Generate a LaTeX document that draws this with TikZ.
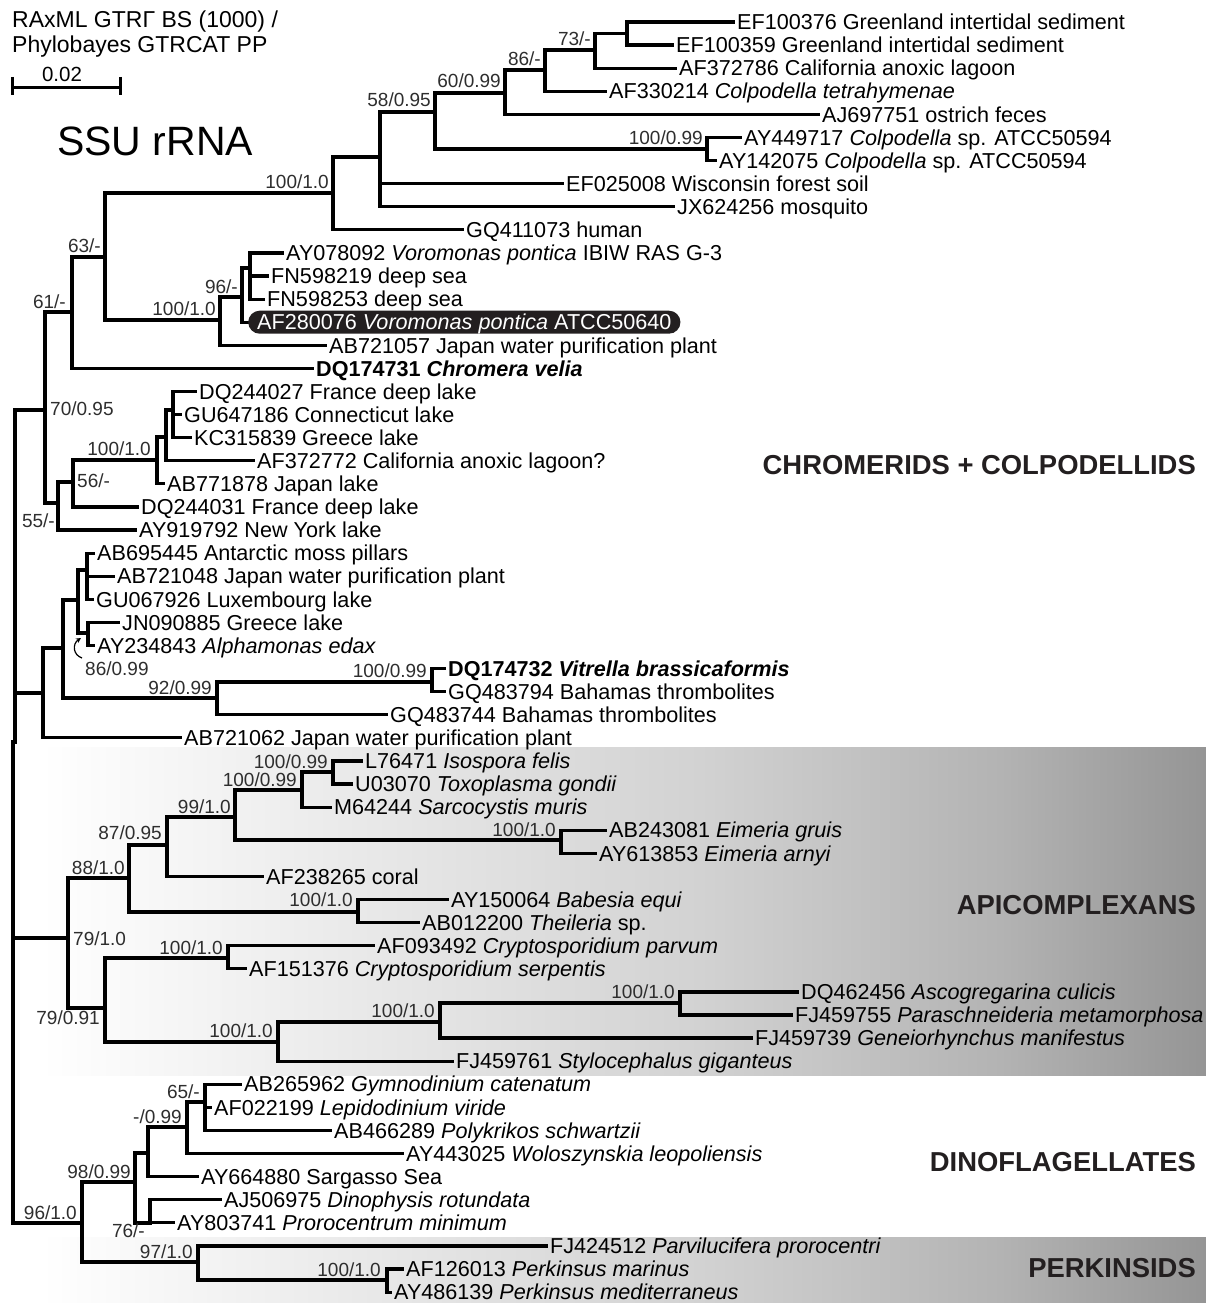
\documentclass[tikz,border=0pt]{standalone}
\usepackage{fontspec}
\setmainfont{Liberation Sans}
\usetikzlibrary{arrows.meta}
\definecolor{boxblack}{HTML}{231F20}
\definecolor{gA}{HTML}{EDEDED}
\definecolor{gB}{HTML}{D2D2D2}
\definecolor{gC}{HTML}{B3B3B3}
\definecolor{gD}{HTML}{959595}
\definecolor{supc}{HTML}{2E2E2E}
\newcommand{\leaffnt}{\fontsize{21.6}{24}\selectfont}
\newcommand{\supfnt}{\fontsize{19}{21}\selectfont}
\begin{document}
\begin{tikzpicture}[x=1pt,y=-1pt,
  br/.style={line width=3.2pt, line cap=rect, line join=miter},
  rootbr/.style={line width=4.2pt, line cap=rect},
  leaf/.style={anchor=base west, inner sep=0pt, xshift=4pt, yshift=-7.7pt, font=\leaffnt},
  hl/.style={anchor=west, inner sep=0pt, inner xsep=9pt, fill=boxblack, text=white, rounded corners=11.5pt, minimum height=23pt, text height=15.5pt, text depth=0pt, font=\leaffnt},
  sup/.style={anchor=base east, inner sep=0pt, font=\supfnt, text=supc},
  supw/.style={anchor=base west, inner sep=0pt, font=\supfnt, text=supc},
  clade/.style={anchor=base east, inner sep=0pt, font=\fontsize{27.4}{29}\selectfont\bfseries, text=boxblack},
  band/.style={draw=none}
]
\useasboundingbox (0,0) rectangle (1206,1303);

% ---------- background bands ----------
\fill[band, left color=white, right color=gA] (40,747) rectangle (301,1075);
\fill[band, left color=gA, right color=gB] (300,747) rectangle (701,1075);
\fill[band, left color=gB, right color=gC] (700,747) rectangle (1001,1075);
\fill[band, left color=gC, right color=gD] (1000,747) rectangle (1206,1075);
\fill[band, left color=white, right color=gA] (40,1237) rectangle (301,1303);
\fill[band, left color=gA, right color=gB] (300,1237) rectangle (701,1303);
\fill[band, left color=gB, right color=gC] (700,1237) rectangle (1001,1303);
\fill[band, left color=gC, right color=gD] (1000,1237) rectangle (1206,1303);

% ---------- header ----------
\node[anchor=base west, inner sep=0pt, font=\fontsize{23}{25}\selectfont] (hdr1) at (12,28) {RAxML GTRΓ BS (1000) /};
\node[anchor=base west, inner sep=0pt, font=\fontsize{23}{25}\selectfont] (hdr2) at (12,53) {Phylobayes GTRCAT PP};
\coordinate (sbL) at (12,88); \coordinate (sbR) at (120,88);
\coordinate (sbLt) at (12,77); \coordinate (sbLb) at (12,95);
\coordinate (sbRt) at (120,77); \coordinate (sbRb) at (120,95);
\draw[line width=3pt] (sbL) -- (sbR);
\draw[line width=3pt] (sbLt) -- (sbLb);
\draw[line width=3pt] (sbRt) -- (sbRb);
\node[anchor=base, inner sep=0pt, font=\fontsize{20.5}{22}\selectfont] (sblab) at (62,82) {0.02};
\node[anchor=base west, inner sep=0pt, font=\fontsize{41}{44}\selectfont] (title) at (57,155) {SSU rRNA};

% ---------- leaf tips ----------
\coordinate (t1) at (733,22.0);
\coordinate (t2) at (672,45.1);
\coordinate (t3) at (675,68.2);
\coordinate (t4) at (605,91.3);
\coordinate (t5) at (818,114.4);
\coordinate (t6) at (740,137.5);
\coordinate (t7) at (715,160.5);
\coordinate (t8) at (562,183.6);
\coordinate (t9) at (673,206.7);
\coordinate (t10) at (462,229.8);
\coordinate (t11) at (282,252.9);
\coordinate (t12) at (267,276.0);
\coordinate (t13) at (263,299.1);
\coordinate (t14) at (248,322.2);
\coordinate (t15) at (325,345.3);
\coordinate (t16) at (312,368.4);
\coordinate (t17) at (195,391.4);
\coordinate (t18) at (180,414.5);
\coordinate (t19) at (190,437.6);
\coordinate (t20) at (253,460.7);
\coordinate (t21) at (163,483.8);
\coordinate (t22) at (137,506.9);
\coordinate (t23) at (135,530.0);
\coordinate (t24) at (93,553.1);
\coordinate (t25) at (113,576.2);
\coordinate (t26) at (92,599.3);
\coordinate (t27) at (118,622.4);
\coordinate (t28) at (93,645.5);
\coordinate (t29) at (444,668.6);
\coordinate (t30) at (444,691.6);
\coordinate (t31) at (386,714.7);
\coordinate (t32) at (180,737.8);
\coordinate (t33) at (361,760.9);
\coordinate (t34) at (351,784.0);
\coordinate (t35) at (330,807.1);
\coordinate (t36) at (605,830.2);
\coordinate (t37) at (595,853.3);
\coordinate (t38) at (262,876.4);
\coordinate (t39) at (447,899.5);
\coordinate (t40) at (418,922.6);
\coordinate (t41) at (373,945.7);
\coordinate (t42) at (245,968.8);
\coordinate (t43) at (797,991.9);
\coordinate (t44) at (791,1015.0);
\coordinate (t45) at (751,1038.0);
\coordinate (t46) at (452,1061.1);
\coordinate (t47) at (240,1084.2);
\coordinate (t48) at (210,1107.3);
\coordinate (t49) at (330,1130.4);
\coordinate (t50) at (402,1153.5);
\coordinate (t51) at (197,1176.6);
\coordinate (t52) at (220,1199.7);
\coordinate (t53) at (173,1222.8);
\coordinate (t54) at (546,1245.9);
\coordinate (t55) at (402,1269.0);
\coordinate (t56) at (390,1292.1);

% ---------- internal nodes ----------
\coordinate (Nx) at (627,33.5);
\coordinate (N73) at (595,50);
\coordinate (N86) at (545,70);
\coordinate (N60) at (505,93);
\coordinate (Nb) at (707,149);
\coordinate (N58) at (435,112);
\coordinate (Na) at (380,157);
\coordinate (N100) at (333,193);
\coordinate (Nv2) at (250,268);
\coordinate (N96) at (242,297);
\coordinate (Nvoro) at (220,320);
\coordinate (N63) at (105,257);
\coordinate (N61) at (72,312);
\coordinate (Nz) at (173,410);
\coordinate (Ny) at (166,437);
\coordinate (N100c) at (157,460);
\coordinate (N56) at (73,482);
\coordinate (N55) at (58,503);
\coordinate (N70) at (45,410);
\coordinate (Np) at (87,570);
\coordinate (Nq) at (88,633);
\coordinate (N86b) at (78,600);
\coordinate (Nvit) at (432,682);
\coordinate (N92) at (217,698);
\coordinate (Nb2) at (63,648);
\coordinate (Na2) at (43,693);
\coordinate (C) at (15,742);
\coordinate (Nisos) at (333,772);
\coordinate (Ntox) at (302,790);
\coordinate (Neim) at (561,840);
\coordinate (N99) at (235,817);
\coordinate (N87) at (167,845);
\coordinate (Nbab) at (358,912);
\coordinate (N88) at (129,878);
\coordinate (Ncry) at (228,958);
\coordinate (Nasco) at (680,1003);
\coordinate (Ng2) at (440,1022);
\coordinate (Ng) at (278,1042);
\coordinate (N79b) at (105,1008);
\coordinate (Nap) at (68,938);
\coordinate (N65) at (205,1102);
\coordinate (N099) at (187,1127);
\coordinate (Nm) at (148,1153);
\coordinate (N76) at (150,1223);
\coordinate (N98) at (135,1182);
\coordinate (Nper) at (387,1280);
\coordinate (N97) at (198,1262);
\coordinate (N96r) at (82,1223);
\coordinate (R) at (13,938);
\coordinate (Rtop) at (13,742);
\coordinate (Rbot) at (13,1223);

% ---------- branches ----------
\foreach \p/\c in {Nx/t1, Nx/t2, N73/Nx, N73/t3, N86/N73, N86/t4, N60/N86, N60/t5,
  Nb/t6, Nb/t7, N58/N60, N58/Nb, Na/N58, Na/t8, Na/t9, N100/Na, N100/t10,
  Nv2/t11, Nv2/t12, Nv2/t13, N96/Nv2, N96/t14, Nvoro/N96, Nvoro/t15,
  N63/N100, N63/Nvoro, N61/N63, N61/t16, Nz/t17, Nz/t18, Nz/t19, Ny/Nz, Ny/t20,
  N100c/Ny, N100c/t21, N56/N100c, N56/t22, N55/N56, N55/t23, N70/N61, N70/N55,
  Np/t24, Np/t25, Np/t26, Nq/t27, Nq/t28, N86b/Np, N86b/Nq, Nvit/t29, Nvit/t30,
  N92/Nvit, N92/t31, Nb2/N86b, Nb2/N92, Na2/Nb2, Na2/t32, C/N70, C/Na2,
  Nisos/t33, Nisos/t34, Ntox/Nisos, Ntox/t35, Neim/t36, Neim/t37, N99/Ntox, N99/Neim,
  N87/N99, N87/t38, Nbab/t39, Nbab/t40, N88/N87, N88/Nbab, Ncry/t41, Ncry/t42,
  Nasco/t43, Nasco/t44, Ng2/Nasco, Ng2/t45, Ng/Ng2, Ng/t46, N79b/Ncry, N79b/Ng,
  Nap/N88, Nap/N79b,
  N65/t47, N65/t48, N65/t49, N099/N65, N099/t50, Nm/N099, Nm/t51, N76/t52, N76/t53,
  N98/Nm, N98/N76, Nper/t55, Nper/t56, N97/t54, N97/Nper, N96r/N98, N96r/N97}
  {\draw[br] (\p) |- (\c);}
\draw[rootbr] (Rtop) -- (Rbot);
\draw[br] (R) -- (Nap);
\draw[br] (Rbot) -- (N96r);
\draw[br] (Rtop) -- (C);

% ---------- leaf labels ----------
\node[leaf] (l1) at (t1) {EF100376 Greenland intertidal sediment};
\node[leaf] (l2) at (t2) {EF100359 Greenland intertidal sediment};
\node[leaf] (l3) at (t3) {AF372786 California anoxic lagoon};
\node[leaf] (l4) at (t4) {AF330214 \textit{Colpodella tetrahymenae}};
\node[leaf] (l5) at (t5) {AJ697751 ostrich feces};
\node[leaf] (l6) at (t6) {AY449717 \textit{Colpodella} sp. ATCC50594};
\node[leaf] (l7) at (t7) {AY142075 \textit{Colpodella} sp. ATCC50594};
\node[leaf] (l8) at (t8) {EF025008 Wisconsin forest soil};
\node[leaf] (l9) at (t9) {JX624256 mosquito};
\node[leaf] (l10) at (t10) {GQ411073 human};
\node[leaf] (l11) at (t11) {AY078092 \textit{Voromonas pontica} IBIW RAS G-3};
\node[leaf] (l12) at (t12) {FN598219 deep sea};
\node[leaf] (l13) at (t13) {FN598253 deep sea};
\node[hl] (l14) at (t14) {AF280076 \textit{Voromonas pontica} ATCC50640};
\node[leaf] (l15) at (t15) {AB721057 Japan water purification plant};
\node[leaf] (l16) at (t16) {\textbf{DQ174731 \textit{Chromera velia}}};
\node[leaf] (l17) at (t17) {DQ244027 France deep lake};
\node[leaf] (l18) at (t18) {GU647186 Connecticut lake};
\node[leaf] (l19) at (t19) {KC315839 Greece lake};
\node[leaf] (l20) at (t20) {AF372772 California anoxic lagoon?};
\node[leaf] (l21) at (t21) {AB771878 Japan lake};
\node[leaf] (l22) at (t22) {DQ244031 France deep lake};
\node[leaf] (l23) at (t23) {AY919792 New York lake};
\node[leaf] (l24) at (t24) {AB695445 Antarctic moss pillars};
\node[leaf] (l25) at (t25) {AB721048 Japan water purification plant};
\node[leaf] (l26) at (t26) {GU067926 Luxembourg lake};
\node[leaf] (l27) at (t27) {JN090885 Greece lake};
\node[leaf] (l28) at (t28) {AY234843 \textit{Alphamonas edax}};
\node[leaf] (l29) at (t29) {\textbf{DQ174732 \textit{Vitrella brassicaformis}}};
\node[leaf] (l30) at (t30) {GQ483794 Bahamas thrombolites};
\node[leaf] (l31) at (t31) {GQ483744 Bahamas thrombolites};
\node[leaf] (l32) at (t32) {AB721062 Japan water purification plant};
\node[leaf] (l33) at (t33) {L76471 \textit{Isospora felis}};
\node[leaf] (l34) at (t34) {U03070 \textit{Toxoplasma gondii}};
\node[leaf] (l35) at (t35) {M64244 \textit{Sarcocystis muris}};
\node[leaf] (l36) at (t36) {AB243081 \textit{Eimeria gruis}};
\node[leaf] (l37) at (t37) {AY613853 \textit{Eimeria arnyi}};
\node[leaf] (l38) at (t38) {AF238265 coral};
\node[leaf] (l39) at (t39) {AY150064 \textit{Babesia equi}};
\node[leaf] (l40) at (t40) {AB012200 \textit{Theileria} sp.};
\node[leaf] (l41) at (t41) {AF093492 \textit{Cryptosporidium parvum}};
\node[leaf] (l42) at (t42) {AF151376 \textit{Cryptosporidium serpentis}};
\node[leaf] (l43) at (t43) {DQ462456 \textit{Ascogregarina culicis}};
\node[leaf] (l44) at (t44) {FJ459755 \textit{Paraschneideria metamorphosa}};
\node[leaf] (l45) at (t45) {FJ459739 \textit{Geneiorhynchus manifestus}};
\node[leaf] (l46) at (t46) {FJ459761 \textit{Stylocephalus giganteus}};
\node[leaf] (l47) at (t47) {AB265962 \textit{Gymnodinium catenatum}};
\node[leaf] (l48) at (t48) {AF022199 \textit{Lepidodinium viride}};
\node[leaf] (l49) at (t49) {AB466289 \textit{Polykrikos schwartzii}};
\node[leaf] (l50) at (t50) {AY443025 \textit{Woloszynskia leopoliensis}};
\node[leaf] (l51) at (t51) {AY664880 Sargasso Sea};
\node[leaf] (l52) at (t52) {AJ506975 \textit{Dinophysis rotundata}};
\node[leaf] (l53) at (t53) {AY803741 \textit{Prorocentrum minimum}};
\node[leaf] (l54) at (t54) {FJ424512 \textit{Parvilucifera prorocentri}};
\node[leaf] (l55) at (t55) {AF126013 \textit{Perkinsus marinus}};
\node[leaf] (l56) at (t56) {AY486139 \textit{Perkinsus mediterraneus}};

% ---------- support values ----------
\node[sup] (s73) at (591,46) {73/-};
\node[sup] (s86) at (541,66) {86/-};
\node[sup] (s60) at (501,88) {60/0.99};
\node[sup] (s58) at (431,107) {58/0.95};
\node[sup] (s100b) at (703,144) {100/0.99};
\node[sup] (s100a) at (329,188) {100/1.0};
\node[sup] (s63) at (101,252) {63/-};
\node[sup] (s96) at (238,293) {96/-};
\node[sup] (s100v) at (216,315) {100/1.0};
\node[sup] (s61) at (66,308) {61/-};
\node[supw] (s70) at (50,415) {70/0.95};
\node[sup] (s100l) at (151,455) {100/1.0};
\node[supw] (s56) at (77,487) {56/-};
\node[sup] (s55) at (55,527) {55/-};
\node[supw] (s86b) at (85,675) {86/0.99};
\node[sup] (s92) at (212,694) {92/0.99};
\node[sup] (s100vit) at (427,677) {100/0.99};
\node[sup] (s100iso) at (328,768) {100/0.99};
\node[sup] (s100tox) at (297,786) {100/0.99};
\node[sup] (s99) at (231,813) {99/1.0};
\node[sup] (s87) at (162,839) {87/0.95};
\node[sup] (s88) at (125,874) {88/1.0};
\node[sup] (s100eim) at (556,836) {100/1.0};
\node[sup] (s100bab) at (353,906) {100/1.0};
\node[supw] (s79) at (73,945) {79/1.0};
\node[sup] (s100cry) at (223,954) {100/1.0};
\node[sup] (s79b) at (100,1024) {79/0.91};
\node[sup] (s100g) at (273,1037) {100/1.0};
\node[sup] (s100g2) at (435,1017) {100/1.0};
\node[sup] (s100asc) at (675,998) {100/1.0};
\node[sup] (s65) at (200,1098) {65/-};
\node[sup] (s099) at (182,1123) {-/0.99};
\node[sup] (s98) at (131,1178) {98/0.99};
\node[sup] (s76) at (145,1237) {76/-};
\node[sup] (s96r) at (77,1219) {96/1.0};
\node[sup] (s97) at (193,1258) {97/1.0};
\node[sup] (s100p) at (381,1276) {100/1.0};

% curved pointer for 86/0.99
\coordinate (arrS) at (82,658);
\coordinate (arrE) at (81,638);
\draw[line width=1.2pt, -{Stealth[length=5pt,width=5pt]}] (arrS) .. controls (73,655) and (72,644) .. (arrE);

% ---------- clade labels ----------
\node[clade] (cl1) at (1196,474.5) {CHROMERIDS + COLPODELLIDS};
\node[clade] (cl2) at (1196,914.5) {APICOMPLEXANS};
\node[clade] (cl3) at (1196,1171.5) {DINOFLAGELLATES};
\node[clade] (cl4) at (1196,1277.5) {PERKINSIDS};
\end{tikzpicture}
\end{document}
